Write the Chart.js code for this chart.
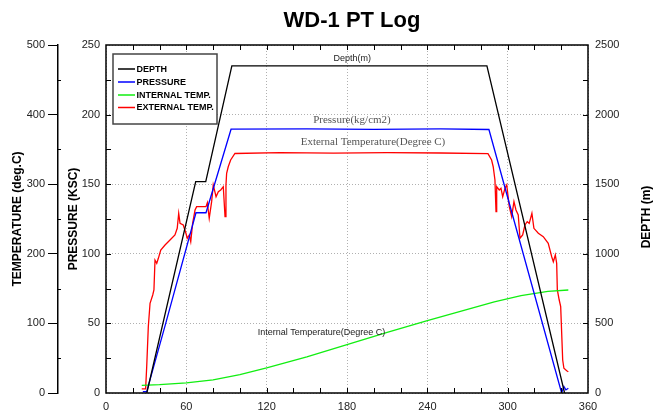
<!DOCTYPE html>
<html>
<head>
<meta charset="utf-8">
<script src="https://cdn.jsdelivr.net/npm/chart.js@4/dist/chart.umd.min.js"></script>
<style>
  body { margin: 0; background: #fff; }
  canvas { display: block; }
</style>
</head>
<body>
<canvas id="ptChart" width="654" height="415"></canvas>
<script>
// values (x = elapsed time, minutes)
var depthTime = [30.5, 67, 74.5, 94, 284.5, 342.5];
var depthM = [0, 1518, 1518, 2350, 2350, 0];

var presTime = [27.5, 30.4, 44.6, 67.2, 74.7, 93.4, 150, 200, 250, 286, 340.3, 342, 343.5, 345.3];
var presKsc = [1, 1, 50, 129.5, 129.5, 189.5, 189.8, 189.4, 189.7, 189.3, 0, 4.6, 2.2, 3.4];

var intTime = [26.7, 40, 60, 80, 100, 120, 150, 180, 210, 240, 270, 290, 310, 330, 345.3];
var intTemp = [11, 12, 14.5, 19, 26.5, 36, 52, 69.5, 87, 104, 120, 131, 140, 146, 148];

var extTime = [26.7, 29.6, 30.4, 31.6, 32.9, 34.9, 35.8, 36.6, 37.9, 39.1, 40.9, 44.1, 47.8, 51.5,
  53.2, 54.3, 55.3, 57.7, 59.7, 60.7, 62.2, 63.3, 64.7, 66.5, 67.7, 74.7, 75.7, 77.1, 78.9, 80.1,
  82.2, 83.9, 85.7, 87.6, 88.9, 89.6, 90.1, 91.3, 93.1, 96.3, 130, 170, 210, 250, 285.3,
  288, 289.2, 290.5, 291.3, 291.8, 293.7, 295, 296.3, 298, 299.3, 301.2, 303, 304.7, 306.2, 307.9,
  309.2, 311.2, 312.9, 314.6, 316.1, 318.1, 319.6, 322.9, 326.6, 330.3, 332.9, 334.1, 335.6, 336.6,
  337.1, 338.5, 339.6, 341.1, 342, 344.1, 345.3];
var extTemp = [6, 6, 37.8, 95.3, 128.9, 140.8, 148, 191, 186.4, 193.5, 205.5, 212.6, 219.8, 227,
  236.6, 258.2, 243.8, 241.4, 229.5, 222.3, 227, 217.4, 243.8, 262.9, 267.7, 267.7, 273.4, 251, 274.9, 298.9,
  282, 289.2, 291.7, 296.4, 253.3, 298.9, 315.7, 325.1, 334.8, 344.1, 345.5, 344.6, 345.4, 344.8, 344,
  334.8, 325.1, 306, 260.5, 296.4, 291.7, 294.1, 282, 294.1, 298.9, 267.7, 253.3, 274.9, 262.9, 255.7,
  222.3, 227, 241.4, 246.1, 243.8, 258.2, 236.6, 229.5, 224.6, 215.1, 195.8, 188.6, 198.3, 186.4,
  148, 133.6, 124, 47.4, 35.5, 32, 30.6];

var timeTicks = [0, 60, 120, 180, 240, 300, 360];

function pts(xs, ys) {
  return xs.map(function (x, i) { return { x: x, y: ys[i] }; });
}
function plain(v) { return String(v); }

var tickFont = { family: 'Liberation Sans', size: 11 };
var titleFont = { family: 'Liberation Sans', size: 12, weight: 'bold' };

var extras = {
  id: 'extras',
  afterDatasetsDraw: function (chart) {
    var ctx = chart.ctx;
    var a = chart.chartArea;
    var x = chart.scales.x, yP = chart.scales.yP, yD = chart.scales.yD, yT = chart.scales.yT;
    ctx.save();

    // small inward ticks on the frame
    ctx.strokeStyle = '#000';
    ctx.lineWidth = 1;
    ctx.beginPath();
    for (var v = 20; v < 360; v += 20) {
      var px = Math.round(x.getPixelForValue(v)) + 0.5;
      ctx.moveTo(px, a.bottom); ctx.lineTo(px, a.bottom - 5);
      ctx.moveTo(px, a.top); ctx.lineTo(px, a.top + 5);
    }
    for (var p = 25; p < 250; p += 25) {
      var py = Math.round(yP.getPixelForValue(p)) + 0.5;
      ctx.moveTo(a.left, py); ctx.lineTo(a.left + 5, py);
    }
    for (var d = 250; d < 2500; d += 250) {
      var dy = Math.round(yD.getPixelForValue(d)) + 0.5;
      ctx.moveTo(a.right, dy); ctx.lineTo(a.right - 5, dy);
    }
    for (var t = 50; t < 500; t += 100) {
      var ty = Math.round(yT.getPixelForValue(t)) + 0.5;
      ctx.moveTo(yT.right, ty); ctx.lineTo(yT.right + 3, ty);
    }
    ctx.stroke();

    // frame
    ctx.lineWidth = 1.5;
    ctx.strokeRect(a.left, a.top, a.right - a.left, a.bottom - a.top);

    // curve labels
    ctx.fillStyle = '#222';
    ctx.textAlign = 'center';
    ctx.textBaseline = 'middle';
    ctx.font = '9px "Liberation Sans"';
    ctx.fillText('Depth(m)', x.getPixelForValue(184), yD.getPixelForValue(2400));
    ctx.fillText('Internal Temperature(Degree C)', x.getPixelForValue(161), yP.getPixelForValue(43.3));
    ctx.fillStyle = '#555';
    ctx.font = '11px "Liberation Serif"';
    ctx.fillText('Pressure(kg/cm2)', x.getPixelForValue(183.7), yP.getPixelForValue(196));
    ctx.fillText('External Temperature(Degree C)', x.getPixelForValue(199.4), yP.getPixelForValue(180));

    // legend box
    ctx.fillStyle = '#fff';
    ctx.fillRect(113, 54, 104, 70);
    ctx.strokeStyle = '#444';
    ctx.lineWidth = 1.5;
    ctx.strokeRect(113, 54, 104, 70);
    ctx.font = 'bold 9px "Liberation Sans"';
    ctx.textAlign = 'left';
    var rows = [69, 82, 95, 107.5];
    chart.data.datasets.forEach(function (ds, i) {
      ctx.strokeStyle = ds.borderColor;
      ctx.lineWidth = 1.5;
      ctx.beginPath();
      ctx.moveTo(118, rows[i]); ctx.lineTo(135, rows[i]);
      ctx.stroke();
      ctx.fillStyle = '#000';
      ctx.fillText(ds.label, 136.5, rows[i] + 0.5);
    });

    // right axis title, reads bottom to top
    ctx.translate(647, 217);
    ctx.rotate(-Math.PI / 2);
    ctx.textAlign = 'center';
    ctx.font = 'bold 12px "Liberation Sans"';
    ctx.fillText('DEPTH (m)', 0, 0);
    ctx.restore();

    // chart title
    ctx.save();
    ctx.fillStyle = '#000';
    ctx.font = 'bold 22px "Liberation Sans"';
    ctx.textAlign = 'center';
    ctx.textBaseline = 'alphabetic';
    ctx.fillText('WD-1 PT Log', 352, 27);
    ctx.restore();
  }
};

var ctx = document.getElementById('ptChart');
var ptChart = new Chart(ctx, {
  type: 'line',
  data: {
    datasets: [
      { label: 'DEPTH', data: pts(depthTime, depthM), borderColor: '#000000', yAxisID: 'yD' },
      { label: 'PRESSURE', data: pts(presTime, presKsc), borderColor: '#0000ff', yAxisID: 'yP' },
      { label: 'INTERNAL TEMP.', data: pts(intTime, intTemp), borderColor: '#11ee11', yAxisID: 'yT' },
      { label: 'EXTERNAL TEMP.', data: pts(extTime, extTemp), borderColor: '#ff0000', yAxisID: 'yT' }
    ]
  },
  options: {
    responsive: false,
    animation: false,
    elements: { point: { radius: 0 }, line: { borderWidth: 1.3, tension: 0 } },
    layout: { padding: { top: 45 } },
    plugins: { legend: { display: false }, tooltip: { enabled: false }, title: { display: false } },
    scales: {
      x: {
        type: 'linear', position: 'bottom', min: 0, max: 360,
        afterBuildTicks: function (s) { s.ticks = timeTicks.map(function (v) { return { value: v }; }); },
        ticks: { font: tickFont, color: '#222', padding: 7, maxRotation: 0, callback: plain },
        grid: { color: '#b0b0b0', drawTicks: false },
        border: { display: false, dash: [1, 2] },
        afterFit: function (s) { s.height = 22; }
      },
      yP: {
        position: 'left', weight: 0, min: 0, max: 250,
        ticks: { stepSize: 50, font: tickFont, color: '#222', padding: 6, callback: plain },
        grid: { color: '#b0b0b0', drawTicks: false },
        border: { display: false, dash: [1, 2] },
        title: { display: true, text: 'PRESSURE (KSC)', font: titleFont, color: '#000', padding: { top: 8 } },
        afterFit: function (s) { s.width = 48; }
      },
      yT: {
        position: 'left', weight: 10, min: 0, max: 500,
        ticks: { stepSize: 100, font: tickFont, color: '#222', padding: 3, callback: plain },
        grid: { drawOnChartArea: false, drawTicks: true, tickLength: 10, color: '#000' },
        border: { display: true, color: '#000', width: 1.5 },
        title: { display: true, text: 'TEMPERATURE (deg.C)', font: titleFont, color: '#000', padding: { top: 10 } },
        afterFit: function (s) { s.width = 58; }
      },
      yD: {
        position: 'right', min: 0, max: 2500,
        ticks: { stepSize: 500, font: tickFont, color: '#222', padding: 7, callback: plain },
        grid: { drawOnChartArea: false, drawTicks: false },
        border: { display: false },
        afterFit: function (s) { s.width = 66; }
      }
    }
  },
  plugins: [extras]
});
</script>
</body>
</html>
